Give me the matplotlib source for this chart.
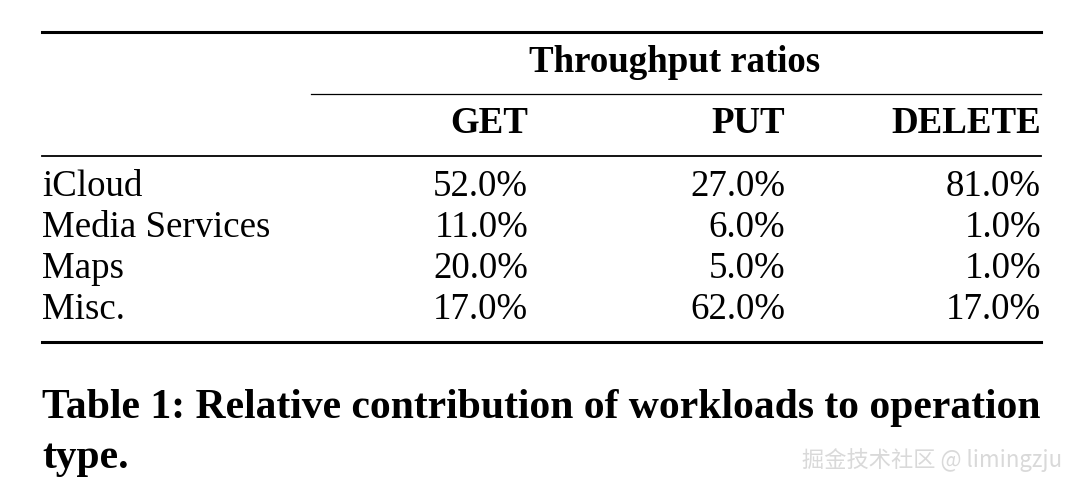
import matplotlib
matplotlib.use("Agg")
import matplotlib.pyplot as plt
from matplotlib.lines import Line2D

rows = ["iCloud", "Media Services", "Maps", "Misc."]
columns = ["GET", "PUT", "DELETE"]
get_vals = [52.0, 11.0, 20.0, 17.0]
put_vals = [27.0, 6.0, 5.0, 62.0]
delete_vals = [81.0, 1.0, 1.0, 17.0]
group_title = "Throughput ratios"
caption = ["Table 1: Relative contribution of workloads to operation", "type."]

W, H = 1080, 493
fig = plt.figure(figsize=(W/100, H/100), dpi=100)
serif = "Liberation Serif"

def fx(x): return x / W
def fy(y): return 1 - y / H

def hline(y, x0, x1, lw):
    fig.add_artist(Line2D([fx(x0), fx(x1)], [fy(y), fy(y)], color="black", lw=lw, transform=fig.transFigure))

hline(32, 42, 1041, 2.2)
hline(94, 311, 1041, 0.9)
hline(156, 42, 1041, 1.3)
hline(342, 42, 1041, 2.2)

fs = 26.6
fig.text(fx(675), fy(62), group_title, ha="center", va="center", fontsize=fs, fontweight="bold", family=serif)
col_x = [528, 785, 1041]
for name, x in zip(columns, col_x):
    fig.text(fx(x), fy(124), name, ha="right", va="center", fontsize=fs, fontweight="bold", family=serif)

row_y = [187, 228, 269, 310]
for i, (r, y) in enumerate(zip(rows, row_y)):
    fig.text(fx(42), fy(y), r, ha="left", va="center", fontsize=fs, family=serif)
    for vals, x in zip([get_vals, put_vals, delete_vals], col_x):
        fig.text(fx(x), fy(y), f"{vals[i]:.1f}%", ha="right", va="center", fontsize=fs, family=serif)

fig.text(fx(42), fy(408), caption[0], ha="left", va="center", fontsize=30, fontweight="bold", family=serif)
fig.text(fx(42), fy(458), caption[1], ha="left", va="center", fontsize=30, fontweight="bold", family=serif)

fig.text(fx(1062), fy(460), "掘金技术社区 @ limingzju", ha="right", va="center", fontsize=16,
         color="#d9d9d9", family=["Noto Sans CJK SC", "DejaVu Sans"])

fig.savefig("out.png", dpi=100, facecolor="white")
